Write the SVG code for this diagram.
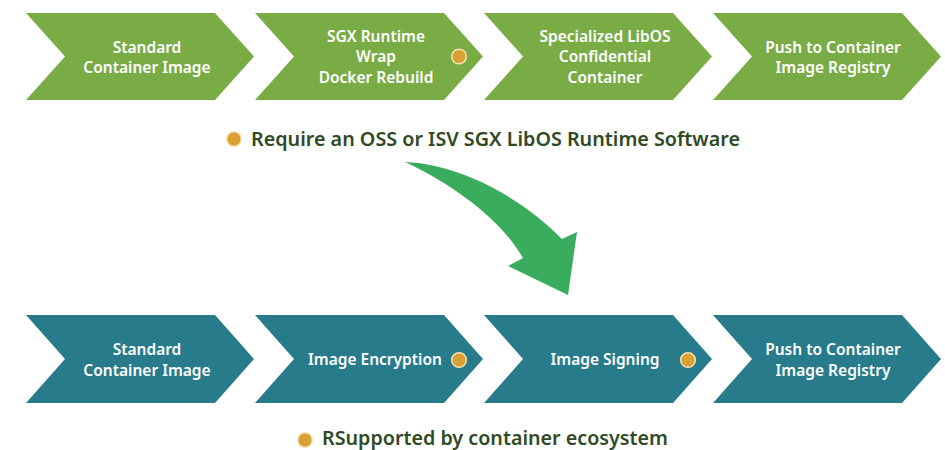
<svg xmlns="http://www.w3.org/2000/svg" width="945" height="450" viewBox="0 0 945 450">
<style>
.g{fill:#7aac46}
.t{fill:#277b8b}
.lbl{font-family:"Noto Sans","Open Sans","Liberation Sans",sans-serif;font-size:15.5px;font-weight:600;fill:#ffffff;text-anchor:middle}
.cap{font-family:"Noto Sans","Open Sans","Liberation Sans",sans-serif;font-size:19.2px;font-weight:600;fill:#2f4a25}
.dot{fill:#d9a032;stroke:#f4e3b4;stroke-width:1.5}
</style>
<defs>
<path id="chevTop" d="M0,13 H189 L228,56.5 L189,100 H0 L39,56.5 Z"/>
<path id="chevBot" d="M0,315 H189 L228,359 L189,403 H0 L39,359 Z"/>
</defs>
<rect width="945" height="450" fill="#ffffff"/>

<g id="top-standard">
<use href="#chevTop" x="26" class="g"/>
<text class="lbl" x="147"><tspan x="147" y="52.5">Standard</tspan><tspan x="147" y="73">Container Image</tspan></text>
</g>
<g id="top-sgx">
<use href="#chevTop" x="255" class="g"/>
<text class="lbl" x="376"><tspan x="376" y="41.5">SGX Runtime</tspan><tspan x="376" y="62">Wrap</tspan><tspan x="376" y="82.5">Docker Rebuild</tspan></text>
<circle class="dot" cx="459" cy="56.5" r="7.3"/>
</g>
<g id="top-libos">
<use href="#chevTop" x="484" class="g"/>
<text class="lbl" x="605"><tspan x="605" y="41.5">Specialized LibOS</tspan><tspan x="605" y="62">Confidential</tspan><tspan x="605" y="82.5">Container</tspan></text>
</g>
<g id="top-push">
<use href="#chevTop" x="713" class="g"/>
<text class="lbl" x="833"><tspan x="833" y="52.5">Push to Container</tspan><tspan x="833" y="73">Image Registry</tspan></text>
</g>

<g id="caption-top">
<circle class="dot" cx="234" cy="139" r="7.3"/>
<text class="cap" x="251" y="146" textLength="489" lengthAdjust="spacingAndGlyphs">Require an OSS or ISV SGX LibOS Runtime Software</text>
</g>

<g id="connectors">
<path d="M405,162 C460,164 522,198 562,239 L577,232 L568,295 L508,266 L523,258 C503,223 460,188 405,162 Z" fill="#3aac5d"/>
</g>

<g id="bot-standard">
<use href="#chevBot" x="26" class="t"/>
<text class="lbl" x="147"><tspan x="147" y="355">Standard</tspan><tspan x="147" y="375.5">Container Image</tspan></text>
</g>
<g id="bot-encrypt">
<use href="#chevBot" x="255" class="t"/>
<text class="lbl" x="375" y="365">Image Encryption</text>
<circle class="dot" cx="459" cy="360" r="7.3"/>
</g>
<g id="bot-sign">
<use href="#chevBot" x="484" class="t"/>
<text class="lbl" x="605" y="365">Image Signing</text>
<circle class="dot" cx="688" cy="360" r="7.3"/>
</g>
<g id="bot-push">
<use href="#chevBot" x="713" class="t"/>
<text class="lbl" x="833"><tspan x="833" y="355">Push to Container</tspan><tspan x="833" y="375.5">Image Registry</tspan></text>
</g>

<g id="caption-bottom">
<circle class="dot" cx="305" cy="440" r="7.3"/>
<text class="cap" x="322" y="444.5" font-size="18.5" textLength="346" lengthAdjust="spacingAndGlyphs">RSupported by container ecosystem</text>
</g>
</svg>
